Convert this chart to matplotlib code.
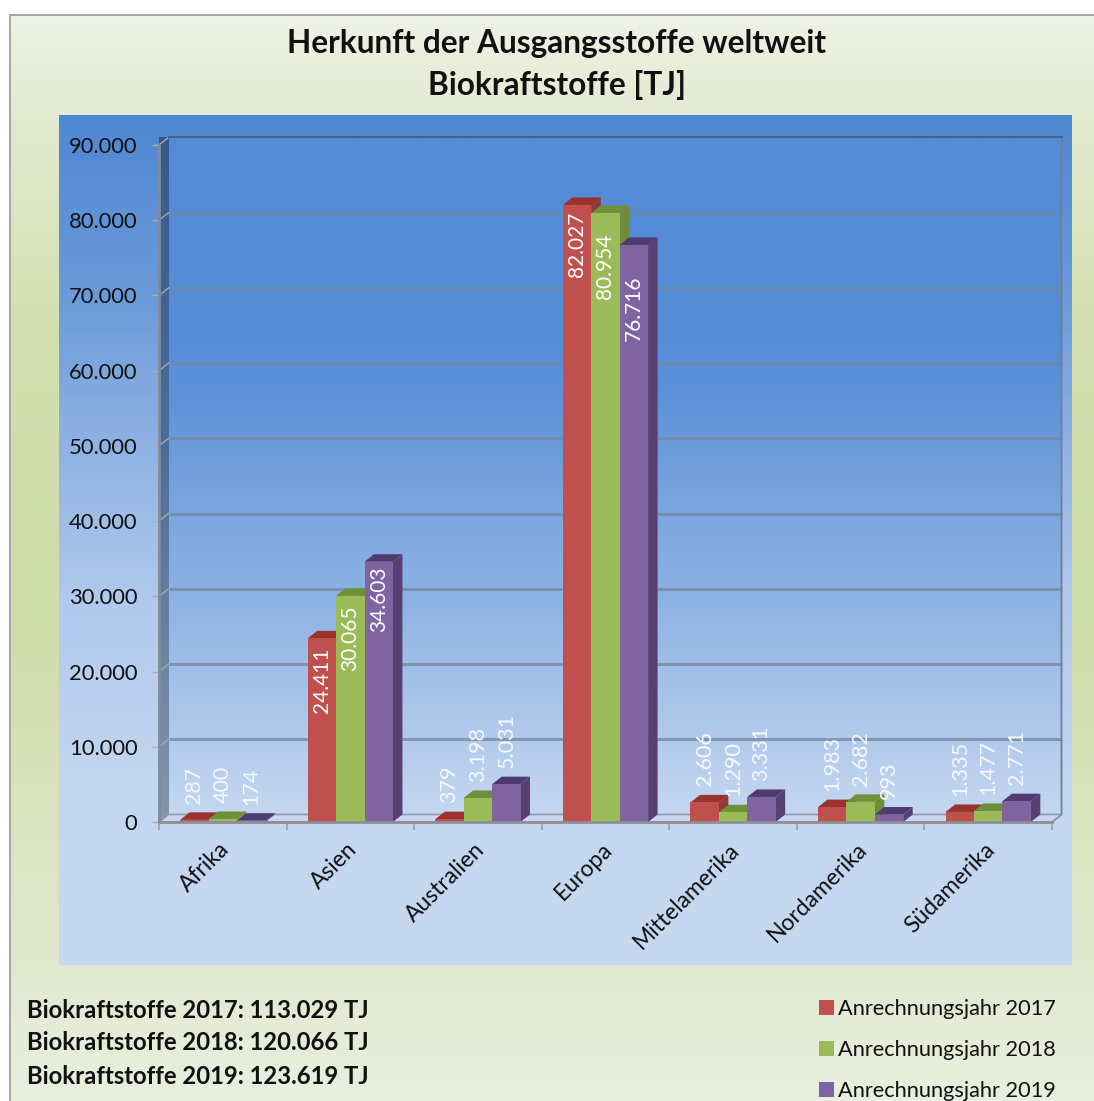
import numpy as np
import matplotlib
matplotlib.use("Agg")
import matplotlib.pyplot as plt
from matplotlib.colors import LinearSegmentedColormap
from matplotlib.patches import Polygon, Patch
from matplotlib.transforms import ScaledTranslation

plt.rcParams['font.family'] = ['Lato', 'DejaVu Sans']

# Daten
kategorien = ["Afrika", "Asien", "Australien", "Europa", "Mittelamerika", "Nordamerika", "Südamerika"]
werte_2017 = [287, 24411, 379, 82027, 2606, 1983, 1335]
werte_2018 = [400, 30065, 3198, 80954, 1290, 2682, 1477]
werte_2019 = [174, 34603, 5031, 76716, 3331, 993, 2771]
serien = ["Anrechnungsjahr 2017", "Anrechnungsjahr 2018", "Anrechnungsjahr 2019"]
summen = ["Biokraftstoffe 2017: 113.029 TJ", "Biokraftstoffe 2018: 120.066 TJ", "Biokraftstoffe 2019: 123.619 TJ"]
y_ticks = [0, 10000, 20000, 30000, 40000, 50000, 60000, 70000, 80000, 90000]

W, H = 1094, 1101
front = ['#c0504d', '#9bbb59', '#8064a2']
dunkel = ['#9a3230', '#6f8f38', '#503a72']
seite = ['#8f3a38', '#6f8b3c', '#574074']


def fmt(v):
    return f"{v:,}".replace(",", ".")


def verlauf(ax, stops, extent, **kw):
    # senkrechter Farbverlauf, stops = (Position 0-1, Farbe)
    cm = LinearSegmentedColormap.from_list('v', stops)
    g = np.linspace(0, 1, 256).reshape(-1, 1)
    return ax.imshow(g, cmap=cm, extent=extent, aspect='auto', origin='upper', vmin=0, vmax=1, **kw)


fig = plt.figure(figsize=(W / 100, H / 100), dpi=100, facecolor='white')

# Hintergrund in Pixelkoordinaten
bg = fig.add_axes([0, 0, 1, 1])
bg.set_xlim(0, W)
bg.set_ylim(H, 0)
bg.axis('off')
verlauf(bg, [(0, '#eef2e5'), (0.1, '#e3e9d0'), (0.28, '#d4e0b0'), (0.55, '#cfdda8'),
             (0.85, '#e0e7cc'), (1, '#e9efdf')], (9, W, H, 14), zorder=1)
bg.plot([9.5, 9.5, W], [H, 14.5, 14.5], color='#a8a8a8', lw=1.5, zorder=2)
verlauf(bg, [(0, '#5087d2'), (0.22, '#6c9bd9'), (0.335, '#85abe0'), (0.57, '#b0c9ec'), (0.8, '#c4d7f0'),
             (1, '#c6d9f1')], (59, 1072, 965, 115), zorder=2)
bg.set_xlim(0, W)
bg.set_ylim(H, 0)

bg.text(557, 44, "Herkunft der Ausgangsstoffe weltweit", ha='center', va='center',
        fontsize=22.8, fontweight='bold', color='#111111', zorder=5)
bg.text(557, 85, "Biokraftstoffe [TJ]", ha='center', va='center',
        fontsize=22.8, fontweight='bold', color='#111111', zorder=5)
for s, y in zip(summen, [1011, 1043, 1076]):
    bg.text(27, y, s, ha='left', va='center', fontsize=17.2, fontweight='bold', color='#111111', zorder=5)

# Diagramm: Kategorien 0-7, Front von x=159 bis 1052, y=822 bis 145
ax = fig.add_axes([159 / W, 1 - 822 / H, 893 / W, 677 / H], zorder=3)
ax.patch.set_alpha(0)
ax.set_xlim(0, 7)
ax.set_ylim(0, 90000)
tx = 9.5 / (893 / 7)
ty = 7.5 / (677 / 90000)

# Rückwand
verlauf(ax, [(0, '#548bd6'), (0.3, '#568dd7'), (0.39, '#5e93d9'), (0.535, '#7ba4de'), (0.68, '#8db2e4'),
             (0.83, '#a9c4e9'), (1, '#c3d7f0')],
        (tx, 7 + tx, ty, 90000 + ty), clip_on=False, zorder=1)
# Seitenwand links
sw = verlauf(ax, [(0, '#345a8c'), (0.45, '#4a6e9c'), (1, '#8295ab')],
             (0, tx, 0, 90000 + ty), clip_on=False, zorder=1)
p = Polygon([(0, 0), (tx, ty), (tx, 90000 + ty), (0, 90000)], transform=ax.transData, fc='none', ec='none')
ax.add_patch(p)
sw.set_clip_path(p)
ax.set_xlim(0, 7)
ax.set_ylim(0, 90000)

# Gitterlinien auf der Rückwand, schräg über die Seitenwand
ax.hlines([t + ty for t in y_ticks[1:-1]], tx, 7 + tx, color='#74879f', lw=2.2, alpha=0.75, clip_on=False, zorder=2)
for t in y_ticks:
    ax.plot([0, tx], [t, t + ty], color='#a5aab0', lw=1, clip_on=False, zorder=2)
ax.plot([7 + tx, 7 + tx, 7], [90000 + ty, ty, 0], color='#6f7f95', lw=1.3, clip_on=False, zorder=2)
ax.plot([tx, 7 + tx], [90000 + ty, 90000 + ty], color='#4a6286', lw=1.6, clip_on=False, zorder=2)
# Boden
ax.add_patch(Polygon([(0, 0), (tx, ty), (7 + tx, ty), (7, 0)], fc='#c9d8ee', ec='#8f99a8', lw=1.2,
                     clip_on=False, zorder=2))

# Balken
bw = 28.4 / (893 / 7)
z = 3
for i, werte in enumerate([werte_2017, werte_2018, werte_2019]):
    for k, v in enumerate(werte):
        x0 = k + 0.5 + (i - 1.5) * bw
        x1 = x0 + bw
        ax.add_patch(Polygon([(x1, 0), (x1 + tx, ty), (x1 + tx, v + ty), (x1, v)], fc=seite[i], ec='none',
                             clip_on=False, zorder=z))
        ax.add_patch(Polygon([(x0, v), (x0 + tx, v + ty), (x1 + tx, v + ty), (x1, v)], fc=dunkel[i], ec='none',
                             clip_on=False, zorder=z))
    ax.bar(np.arange(7) + 0.5 + (i - 1) * bw, werte, bw, color=front[i], clip_on=False, zorder=z + 0.5)
    z += 1

# Beschriftung der Balken: kleine Werte über dem Balken, große im Balken
versatz = {(1, 0): 9, (1, 1): 10, (1, 2): 5, (3, 0): 7, (3, 1): 21, (3, 2): 31}
for i, werte in enumerate([werte_2017, werte_2018, werte_2019]):
    for k, v in enumerate(werte):
        x = k + 0.5 + (i - 1) * bw
        if (k, i) in versatz:
            ax.annotate(fmt(v), (x, v), xytext=(0, -versatz[(k, i)] * 0.72), textcoords='offset points',
                        rotation=90, ha='center', va='top', fontsize=15, color='white', zorder=10, clip_on=False)
        else:
            ax.annotate(fmt(v), (x, v), xytext=(0, 16 * 0.72), textcoords='offset points',
                        rotation=90, ha='center', va='bottom', fontsize=15.5, color='#f6f9fd', zorder=10,
                        clip_on=False)

# Achsen
for s in ['top', 'right']:
    ax.spines[s].set_visible(False)
ax.spines['left'].set_color('#808b9a')
ax.spines['left'].set_linewidth(2)
ax.spines['bottom'].set_color('#8f8f94')
ax.spines['bottom'].set_linewidth(2)
ax.spines['bottom'].set_zorder(8)
ax.set_yticks(y_ticks)
ax.set_yticklabels([fmt(t) for t in y_ticks], fontsize=15.8, color='#111111')
ax.tick_params(axis='y', length=5, width=1, color='#b0aca6', pad=10.5)
ax.set_xticks(np.arange(8))
ax.set_xticklabels([])
ax.tick_params(axis='x', which='major', length=6, width=1.2, color='#9a9a9a')
ax.set_xticks(np.arange(7) + 0.5, minor=True)
ax.set_xticklabels(kategorien, minor=True, rotation=45, ha='right', va='top', rotation_mode='anchor',
                   fontsize=16.5, color='#111111')
ax.tick_params(axis='x', which='minor', length=0, pad=12)
for lab in ax.get_xticklabels(minor=True):
    lab.set_transform(lab.get_transform() + ScaledTranslation(-3 / 72, 0, fig.dpi_scale_trans))

# Legende
griffe = [Patch(fc=c, ec='none', label=l) for c, l in zip(front, serien)]
fig.legend(handles=griffe, loc='upper left', bbox_to_anchor=(810 / W, 1 - 990 / H), frameon=False,
           fontsize=15.7, labelspacing=0.98, handlelength=0.69, handleheight=0.69, handletextpad=0.2,
           borderpad=0.4, borderaxespad=0, labelcolor='#111111')

fig.savefig("out.png", dpi=100)
